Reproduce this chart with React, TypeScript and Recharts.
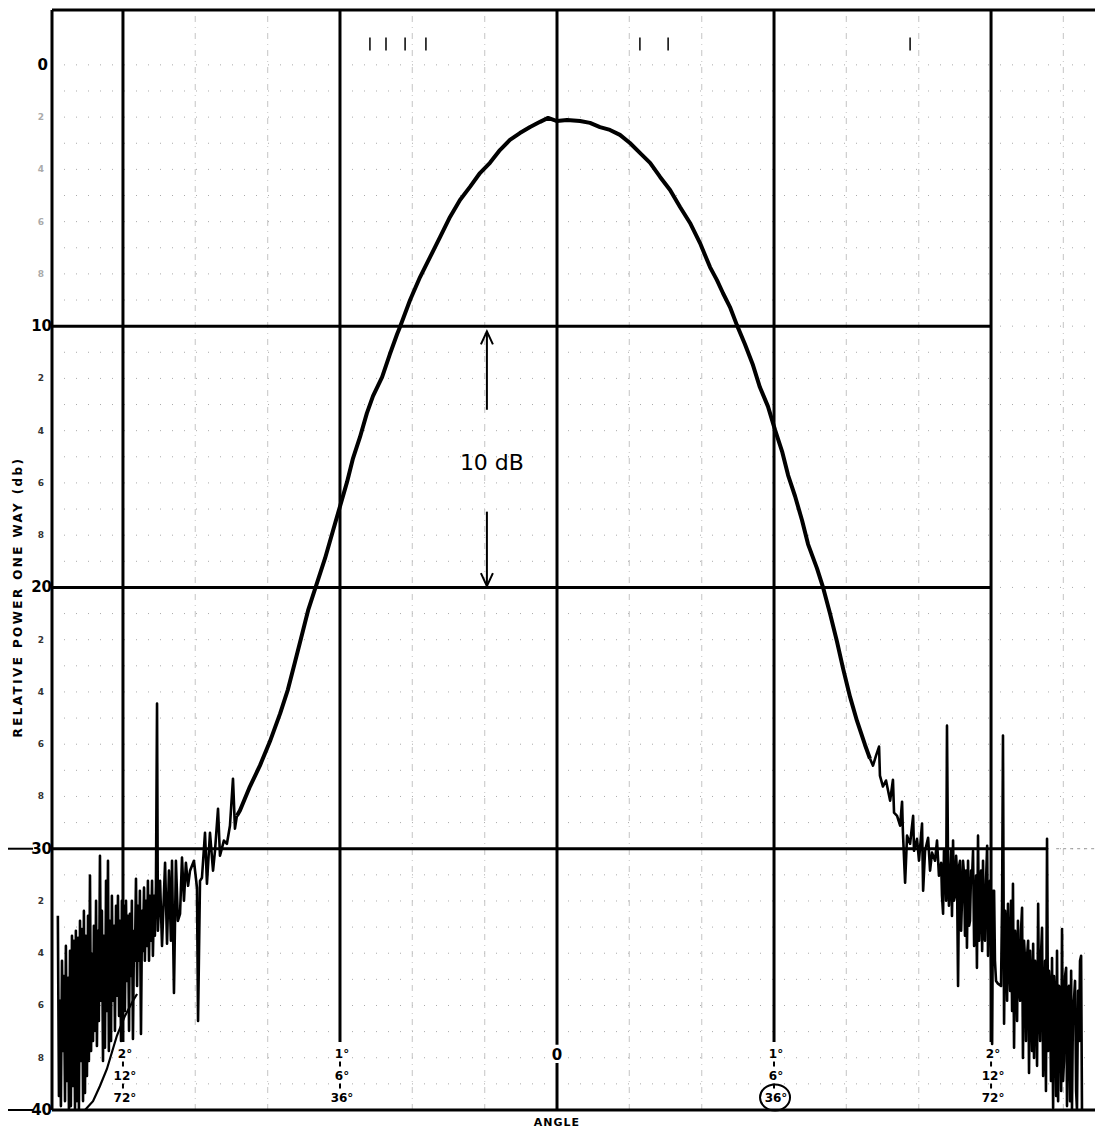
import { CartesianGrid, Line, LineChart, ReferenceDot, ReferenceLine, XAxis, YAxis } from 'recharts';

// [angle (deg, 1° scale), level (db down)]
const leftSidelobe: [number, number][] = [
  [-2.3, 32.57], [-2.295, 39.46], [-2.29, 35.82], [-2.286, 39.85], [-2.281, 34.29], [-2.276, 37.74],
  [-2.272, 34.87], [-2.267, 39.66], [-2.263, 33.72], [-2.258, 38.89], [-2.253, 34.94], [-2.249, 40],
  [-2.244, 33.91], [-2.24, 39.85], [-2.235, 33.33], [-2.23, 39.08], [-2.226, 33.52], [-2.221, 40],
  [-2.217, 33.14], [-2.212, 39.66], [-2.207, 33.41], [-2.203, 40], [-2.198, 32.76], [-2.194, 38.12],
  [-2.189, 33.07], [-2.184, 39.66], [-2.18, 32.38], [-2.175, 39.35], [-2.171, 33.33], [-2.166, 38.7],
  [-2.161, 32.57], [-2.157, 38.12], [-2.152, 31.03], [-2.147, 37.74], [-2.143, 34.02], [-2.138, 37.36],
  [-2.134, 32.95], [-2.129, 36.97], [-2.124, 31.99], [-2.12, 37.55], [-2.115, 33.14], [-2.111, 36.59],
  [-2.106, 30.27], [-2.101, 35.82], [-2.097, 32.38], [-2.092, 38.12], [-2.088, 33.33], [-2.083, 37.62],
  [-2.078, 31.23], [-2.074, 36.21], [-2.069, 30.46], [-2.065, 37.74], [-2.06, 32.76], [-2.055, 37.36],
  [-2.051, 31.8], [-2.046, 35.82], [-2.041, 32.95], [-2.037, 36.97], [-2.032, 32.18], [-2.028, 35.63],
  [-2.023, 31.8], [-2.018, 36.4], [-2.014, 32.76], [-2.009, 37.36], [-2.005, 31.99], [-2.0, 35.44],
  [-1.995, 32.18], [-1.991, 36.21], [-1.986, 31.99], [-1.982, 35.06], [-1.977, 32.57], [-1.972, 36.97],
  [-1.968, 32.49], [-1.963, 34.87], [-1.959, 31.99], [-1.954, 37.28], [-1.949, 33.14], [-1.945, 34.29],
  [-1.94, 31.15], [-1.935, 35.25], [-1.931, 32.18], [-1.926, 34.29], [-1.922, 31.61], [-1.917, 37.09],
  [-1.912, 32.38], [-1.908, 33.91], [-1.903, 31.49], [-1.899, 34.29], [-1.894, 31.99], [-1.889, 33.72],
  [-1.885, 31.23], [-1.88, 34.29], [-1.876, 31.8], [-1.871, 33.52], [-1.866, 31.23], [-1.862, 34.1],
  [-1.857, 31.8], [-1.853, 33.33], [-1.848, 31.42], [-1.843, 24.44], [-1.839, 33.14], [-1.829, 31.23],
  [-1.82, 33.72], [-1.806, 30.54], [-1.797, 33.64], [-1.788, 30.84], [-1.779, 33.52], [-1.774, 30.46],
  [-1.765, 35.52], [-1.756, 30.46], [-1.747, 32.76], [-1.737, 32.49], [-1.728, 30.34], [-1.719, 31.99],
  [-1.71, 30.54], [-1.7, 31.42], [-1.691, 30.84], [-1.673, 30.46], [-1.659, 31.49], [-1.654, 36.59],
  [-1.645, 31.23], [-1.636, 31.11], [-1.622, 29.39], [-1.613, 31.34], [-1.599, 29.39], [-1.585, 30.84],
  [-1.576, 30.08], [-1.562, 28.47], [-1.553, 30.27], [-1.535, 29.69], [-1.521, 29.81], [-1.507, 29.12],
  [-1.493, 27.32], [-1.484, 29.23], [-1.475, 28.74],
];

const mainLobe: [number, number][] = [
  [-1.475, 28.74], [-1.461, 28.54], [-1.415, 27.62], [-1.369, 26.82], [-1.323, 25.9], [-1.276, 24.83],
  [-1.24, 23.91], [-1.207, 22.84], [-1.175, 21.8], [-1.147, 20.88], [-1.111, 19.96], [-1.069, 18.89],
  [-1.032, 17.82], [-1.0, 16.9], [-0.968, 15.98], [-0.94, 15.06], [-0.908, 14.25], [-0.876, 13.33],
  [-0.848, 12.68], [-0.806, 11.95], [-0.77, 11.07], [-0.737, 10.31], [-0.724, 10.04], [-0.677, 9.0],
  [-0.631, 8.12], [-0.585, 7.36], [-0.539, 6.59], [-0.493, 5.82], [-0.447, 5.17], [-0.401, 4.67],
  [-0.355, 4.14], [-0.309, 3.75], [-0.263, 3.26], [-0.217, 2.87], [-0.171, 2.61], [-0.124, 2.38],
  [-0.078, 2.18], [-0.041, 2.03], [0, 2.15], [0.046, 2.11], [0.106, 2.15], [0.152, 2.22],
  [0.198, 2.38], [0.244, 2.49], [0.29, 2.68], [0.336, 2.99], [0.382, 3.37], [0.429, 3.75],
  [0.475, 4.29], [0.521, 4.79], [0.567, 5.44], [0.613, 6.05], [0.659, 6.82], [0.705, 7.74],
  [0.737, 8.24], [0.765, 8.74], [0.797, 9.27], [0.829, 9.96], [0.866, 10.69], [0.903, 11.49],
  [0.935, 12.34], [0.972, 13.07], [1.005, 13.98], [1.037, 14.79], [1.065, 15.71], [1.097, 16.51],
  [1.129, 17.43], [1.157, 18.35], [1.198, 19.27], [1.226, 20.0], [1.258, 21.0], [1.29, 22.07],
  [1.318, 23.1], [1.35, 24.18], [1.382, 25.1], [1.419, 26.02], [1.442, 26.55],
];

const rightSidelobe: [number, number][] = [
  [1.442, 26.55], [1.456, 26.82], [1.47, 26.44], [1.484, 26.09], [1.488, 27.2], [1.502, 27.62],
  [1.516, 27.39], [1.535, 28.16], [1.548, 27.36], [1.553, 28.62], [1.567, 28.74], [1.581, 29.12],
  [1.59, 28.2], [1.594, 29.39], [1.604, 31.3], [1.613, 29.5], [1.627, 29.81], [1.641, 28.74],
  [1.645, 30.08], [1.659, 29.62], [1.668, 30.46], [1.682, 29.04], [1.687, 31.61], [1.696, 30.08],
  [1.71, 29.58], [1.719, 30.84], [1.728, 30.15], [1.742, 30.46], [1.751, 29.69], [1.76, 31.03],
  [1.765, 30.84], [1.77, 30.54], [1.774, 31.8], [1.779, 32.49], [1.783, 30.08], [1.788, 30.27],
  [1.793, 31.99], [1.797, 25.29], [1.802, 30.84], [1.806, 32.18], [1.811, 31.23], [1.816, 30.08],
  [1.82, 32.57], [1.825, 29.69], [1.829, 31.99], [1.834, 31.8], [1.839, 30.27], [1.843, 30.84],
  [1.848, 35.25], [1.853, 30.65], [1.857, 30.46], [1.862, 33.14], [1.866, 31.99], [1.871, 30.46],
  [1.876, 31.03], [1.88, 33.33], [1.885, 30.84], [1.889, 33.79], [1.894, 30.46], [1.899, 32.95],
  [1.903, 32.76], [1.908, 30.84], [1.912, 31.23], [1.917, 30.08], [1.922, 33.72], [1.926, 33.14],
  [1.931, 31.03], [1.935, 34.56], [1.94, 29.5], [1.945, 33.52], [1.949, 32.18], [1.954, 30.84],
  [1.959, 33.91], [1.963, 30.46], [1.968, 33.14], [1.972, 33.52], [1.977, 31.23], [1.982, 29.89],
  [1.986, 34.1], [1.991, 31.99], [1.995, 31.23], [2.0, 34.29], [2.005, 37.47], [2.009, 31.61],
  [2.014, 31.61], [2.018, 34.29], [2.023, 35.06], [2.032, 35.17], [2.046, 35.25], [2.051, 31.99],
  [2.055, 25.67], [2.06, 36.7], [2.065, 32.38], [2.069, 33.14], [2.074, 35.82], [2.078, 32.11],
  [2.083, 34.29], [2.088, 35.44], [2.092, 31.99], [2.097, 36.21], [2.101, 31.34], [2.106, 37.62],
  [2.111, 33.14], [2.115, 33.91], [2.12, 36.59], [2.124, 32.76], [2.129, 35.25], [2.134, 35.82],
  [2.138, 33.14], [2.143, 32.26], [2.147, 38.01], [2.152, 33.52], [2.157, 34.29], [2.161, 37.36],
  [2.166, 34.1], [2.171, 33.52], [2.175, 38.58], [2.18, 33.91], [2.184, 35.06], [2.189, 37.74],
  [2.194, 33.64], [2.198, 38.01], [2.203, 34.29], [2.207, 35.44], [2.212, 38.31], [2.217, 32.11],
  [2.221, 35.82], [2.226, 37.36], [2.23, 34.1], [2.235, 33.03], [2.24, 38.7], [2.244, 36.21],
  [2.249, 34.29], [2.253, 39.27], [2.258, 29.62], [2.263, 37.74], [2.267, 34.67], [2.272, 35.44],
  [2.276, 38.89], [2.281, 34.18], [2.286, 39.92], [2.29, 34.87], [2.295, 35.82], [2.3, 39.46],
  [2.304, 33.91], [2.309, 39.66], [2.313, 35.25], [2.318, 35.44], [2.323, 39.27], [2.327, 33.07],
  [2.332, 38.89], [2.336, 38.12], [2.341, 34.87], [2.346, 34.56], [2.35, 39.85], [2.355, 35.44],
  [2.359, 35.25], [2.364, 39.66], [2.369, 34.67], [2.373, 39.96], [2.378, 35.82], [2.382, 35.82],
  [2.387, 35.06], [2.392, 39.27], [2.396, 40], [2.401, 35.44], [2.406, 37.36], [2.41, 34.29],
  [2.415, 34.1], [2.419, 40],
];

// second, smooth pen stroke down in the left corner
const leftRetrace: [number, number][] = [
  [-2.235, 40], [-2.175, 40], [-2.138, 39.66], [-2.106, 39.08], [-2.074, 38.43], [-2.028, 37.16],
  [-1.991, 36.4], [-1.954, 35.82], [-1.935, 35.56],
];

const levelTicks = [
  0, 1, 2, 3, 4, 5, 6, 7, 8, 9, 10, 11, 12, 13, 14, 15, 16, 17, 18, 19, 20,
  21, 22, 23, 24, 25, 26, 27, 28, 29, 30, 31, 32, 33, 34, 35, 36, 37, 38, 39, 40,
];
const majorAngles = [-2, -1, 1, 2];
const paperAngles = [-1.667, -1.333, -0.667, -0.333, 0.333, 0.667, 1.333, 1.667, 2.333];
const scaleLabels = [
  { angle: -2, lines: ['2°', '12°', '72°'], circled: false },
  { angle: -1, lines: ['1°', '6°', '36°'], circled: false },
  { angle: 1, lines: ['1°', '6°', '36°'], circled: true },
  { angle: 2, lines: ['2°', '12°', '72°'], circled: false },
];
const topMarks = [-0.862, -0.788, -0.7, -0.604, 0.382, 0.512, 1.627];

const X_MIN = -2.327;
const X_MAX = 2.479;
const Y_TOP = -2.1;
const INK = '#000';
const FONT = 'DejaVu Sans, sans-serif';

const toPoints = (pairs: [number, number][]) => pairs.map(([angle, level]) => ({ angle, level }));

function LevelTick({ y, payload }: any) {
  const v = payload.value as number;
  if (v % 10 === 0) {
    return (
      <g>
        {(v === 30 || v === 40) && <line x1={8} x2={33} y1={y} y2={y} stroke={INK} strokeWidth={2} />}
        <text x={v === 0 ? 48 : 52} y={y} dy={5} textAnchor="end" fontFamily={FONT} fontWeight="bold" fontSize={15} fill={INK}>
          {v}
        </text>
      </g>
    );
  }
  if (v % 2 !== 0) return <g />;
  return (
    <text x={44} y={y} dy={3} textAnchor="end" fontFamily={FONT} fontWeight="bold" fontSize={9} fill={v < 10 ? '#aaa' : '#333'}>
      {v % 10}
    </text>
  );
}

const YTitle = () => (
  <text
    transform="translate(22 597) rotate(-90)"
    textAnchor="middle"
    fontFamily={FONT}
    fontWeight="bold"
    fontSize={12}
    letterSpacing={2.4}
    fill={INK}
  >
    RELATIVE POWER ONE WAY (db)
  </text>
);

const stackShape = (lines: string[], circled: boolean) => (props: any) => {
  const { cx, cy } = props;
  return (
    <g fontFamily={FONT} fontWeight="bold" fontSize={12} fill={INK}>
      {lines.map((t, i) => (
        <text key={t} x={cx + 2} y={cy + i * 22} dy={5} textAnchor="middle">
          {t}
        </text>
      ))}
      <line x1={cx} x2={cx} y1={cy + 9} y2={cy + 14} stroke={INK} strokeWidth={2} />
      <line x1={cx} x2={cx} y1={cy + 31} y2={cy + 36} stroke={INK} strokeWidth={2} />
      {circled && <ellipse cx={cx + 1} cy={cy + 45} rx={15} ry={13} fill="none" stroke={INK} strokeWidth={2} />}
    </g>
  );
};

const zeroShape = (props: any) => (
  <text x={props.cx} y={props.cy} dy={6} textAnchor="middle" fontFamily={FONT} fontWeight="bold" fontSize={15} fill={INK}>
    0
  </text>
);

const angleTitle = (props: any) => (
  <text x={props.cx} y={props.cy + 16} textAnchor="middle" fontFamily={FONT} fontWeight="bold" fontSize={11} letterSpacing={1} fill={INK}>
    ANGLE
  </text>
);

const arrowUp = (props: any) => (
  <polyline points={`${props.cx - 6},${props.cy + 13} ${props.cx},${props.cy} ${props.cx + 6},${props.cy + 13}`} fill="none" stroke={INK} strokeWidth={2} />
);
const arrowDown = (props: any) => (
  <polyline points={`${props.cx - 6},${props.cy - 13} ${props.cx},${props.cy} ${props.cx + 6},${props.cy - 13}`} fill="none" stroke={INK} strokeWidth={2} />
);
const spanLabel = (props: any) => (
  <text x={props.cx} y={props.cy} dy={8} textAnchor="middle" fontFamily={FONT} fontSize={22} fill={INK}>
    10 dB
  </text>
);

export default function App() {
  return (
    <div style={{ position: 'absolute', left: 0, top: 0, width: 1095, height: 1132, background: '#fff' }}>
      <LineChart width={1095} height={1132} margin={{ top: 10, right: 0, bottom: 0, left: 0 }}>
        <CartesianGrid vertical={false} stroke="#aaa" strokeDasharray="1 11" />
        <XAxis
          type="number"
          dataKey="angle"
          domain={[X_MIN, X_MAX]}
          allowDataOverflow
          height={22}
          tick={false}
          tickLine={false}
          axisLine={false}
        />
        <YAxis
          type="number"
          domain={[Y_TOP, 40]}
          reversed
          allowDataOverflow
          ticks={levelTicks}
          interval={0}
          width={52}
          tick={LevelTick}
          tickLine={false}
          axisLine={false}
          label={{ content: YTitle }}
        />

        {paperAngles.map((a) => (
          <ReferenceLine key={`p${a}`} x={a} stroke="#c4c4c4" strokeDasharray="6 5 1 5" />
        ))}
        {topMarks.map((a) => (
          <ReferenceLine key={`m${a}`} segment={[{ x: a, y: -1.05 }, { x: a, y: -0.55 }]} stroke={INK} strokeWidth={1.5} />
        ))}

        <ReferenceLine y={Y_TOP} stroke={INK} strokeWidth={3} />
        <ReferenceLine y={40} stroke={INK} strokeWidth={3} />
        <ReferenceLine x={X_MIN} stroke={INK} strokeWidth={3} />
        <ReferenceLine segment={[{ x: X_MIN, y: 10 }, { x: 2, y: 10 }]} stroke={INK} strokeWidth={3} />
        <ReferenceLine segment={[{ x: X_MIN, y: 20 }, { x: 2, y: 20 }]} stroke={INK} strokeWidth={3} />
        <ReferenceLine segment={[{ x: X_MIN, y: 30 }, { x: 2.258, y: 30 }]} stroke={INK} strokeWidth={3} />
        <ReferenceLine segment={[{ x: 2.3, y: 30 }, { x: X_MAX, y: 30 }]} stroke="#999" strokeDasharray="3 4" />
        {majorAngles.map((a) => (
          <ReferenceLine key={`v${a}`} segment={[{ x: a, y: Y_TOP }, { x: a, y: 37.4 }]} stroke={INK} strokeWidth={3} />
        ))}
        <ReferenceLine segment={[{ x: 0, y: Y_TOP }, { x: 0, y: 37.5 }]} stroke={INK} strokeWidth={3} />
        <ReferenceLine segment={[{ x: 0, y: 38.2 }, { x: 0, y: 40 }]} stroke={INK} strokeWidth={3} />

        <ReferenceLine segment={[{ x: -0.323, y: 10.2 }, { x: -0.323, y: 13.2 }]} stroke={INK} strokeWidth={2} />
        <ReferenceLine segment={[{ x: -0.323, y: 17.1 }, { x: -0.323, y: 19.95 }]} stroke={INK} strokeWidth={2} />
        <ReferenceDot x={-0.323} y={10.2} r={0} shape={arrowUp} />
        <ReferenceDot x={-0.323} y={19.95} r={0} shape={arrowDown} />
        <ReferenceDot x={-0.3} y={15.2} r={0} shape={spanLabel} />

        {scaleLabels.map((s) => (
          <ReferenceDot key={`s${s.angle}`} x={s.angle} y={37.8} r={0} shape={stackShape(s.lines, s.circled)} />
        ))}
        <ReferenceDot x={0} y={37.85} r={0} shape={zeroShape} />
        <ReferenceDot x={0} y={40} r={0} ifOverflow="visible" shape={angleTitle} />

        <Line data={toPoints(leftRetrace)} dataKey="level" stroke={INK} strokeWidth={2.2} dot={false} activeDot={false} isAnimationActive={false} />
        <Line data={toPoints(leftSidelobe)} dataKey="level" stroke={INK} strokeWidth={2.6} strokeLinejoin="round" dot={false} activeDot={false} isAnimationActive={false} />
        <Line data={toPoints(mainLobe)} dataKey="level" stroke={INK} strokeWidth={4} strokeLinejoin="round" dot={false} activeDot={false} isAnimationActive={false} />
        <Line data={toPoints(rightSidelobe)} dataKey="level" stroke={INK} strokeWidth={2.6} strokeLinejoin="round" dot={false} activeDot={false} isAnimationActive={false} />
      </LineChart>
    </div>
  );
}
